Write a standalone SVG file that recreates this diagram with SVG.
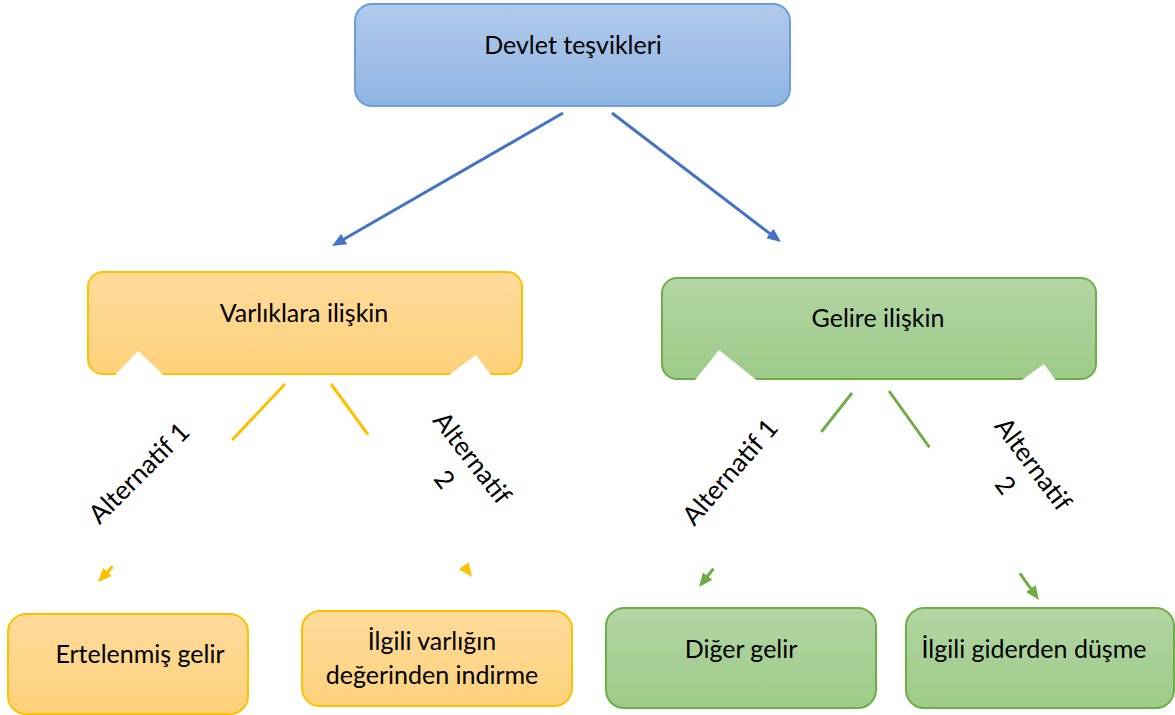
<svg xmlns="http://www.w3.org/2000/svg" width="1175" height="715" viewBox="0 0 1175 715">
  <defs>
    <linearGradient id="gBlue" x1="0" y1="0" x2="0" y2="1">
      <stop offset="0" stop-color="#b1caea"/>
      <stop offset="1" stop-color="#8fb4e3"/>
    </linearGradient>
    <linearGradient id="gYellow" x1="0" y1="0" x2="0" y2="1">
      <stop offset="0" stop-color="#fedb9b"/>
      <stop offset="1" stop-color="#fdd27c"/>
    </linearGradient>
    <linearGradient id="gGreen" x1="0" y1="0" x2="0" y2="1">
      <stop offset="0" stop-color="#b3d5a4"/>
      <stop offset="1" stop-color="#9dcb88"/>
    </linearGradient>
    <marker id="mBlue" markerUnits="userSpaceOnUse" viewBox="0 0 14 12" refX="8" refY="6" markerWidth="14" markerHeight="12" orient="auto">
      <path d="M0,0 L14,6 L0,12 z" fill="#4472c4"/>
    </marker>
    <marker id="mYellow" markerUnits="userSpaceOnUse" viewBox="0 0 14 12" refX="8" refY="6" markerWidth="14" markerHeight="12" orient="auto">
      <path d="M0,0 L14,6 L0,12 z" fill="#ffc000"/>
    </marker>
    <marker id="mGreen" markerUnits="userSpaceOnUse" viewBox="0 0 14 12" refX="8" refY="6" markerWidth="14" markerHeight="12" orient="auto">
      <path d="M0,0 L14,6 L0,12 z" fill="#70ad47"/>
    </marker>
  </defs>
  <style>
    .blue { fill: url(#gBlue); stroke: #6a9fd8; stroke-width: 2; }
    .yellow { fill: url(#gYellow); stroke: #ffc000; stroke-width: 2; }
    .green { fill: url(#gGreen); stroke: #70ad47; stroke-width: 2; }
    .t { font-family: Lato, "Noto Sans", "Liberation Sans", sans-serif; font-size: 25px; fill: #000; text-anchor: middle; }
    .lbl { font-family: Lato, "Noto Sans", "Liberation Sans", sans-serif; font-size: 26px; fill: #000; text-anchor: middle; }
    .cb { stroke: #4472c4; stroke-width: 3; fill: none; }
    .cy { stroke: #ffc000; stroke-width: 3; fill: none; }
    .cg { stroke: #70ad47; stroke-width: 3; fill: none; }
    .bg { fill: #ffffff; stroke: none; }
  </style>

  <g id="node-devlet">
    <rect class="blue" x="355" y="4" width="435" height="102" rx="17"/>
    <text class="t" x="573" y="54">Devlet teşvikleri</text>
  </g>
  <g id="node-varliklara">
    <rect class="yellow" x="88" y="272" width="434" height="102" rx="15"/>
    <text class="t" x="304" y="322">Varlıklara ilişkin</text>
  </g>
  <g id="node-gelire">
    <rect class="green" x="662" y="278" width="434" height="101" rx="15"/>
    <text class="t" x="878" y="327">Gelire ilişkin</text>
  </g>

  <g id="connectors">
    <line class="cb" x1="563" y1="113" x2="337.2" y2="243" marker-end="url(#mBlue)"/>
    <line class="cb" x1="612" y1="113" x2="776.2" y2="238.4" marker-end="url(#mBlue)"/>
    <line class="cy" x1="285" y1="384" x2="102.1" y2="577.6" marker-end="url(#mYellow)"/>
    <line class="cy" x1="331" y1="384" x2="468.5" y2="572.2" marker-end="url(#mYellow)"/>
    <line class="cg" x1="852" y1="393" x2="702.7" y2="582.3" marker-end="url(#mGreen)"/>
    <line class="cg" x1="889" y1="391" x2="1035.5" y2="595.1" marker-end="url(#mGreen)"/>
  </g>

  <g id="connector-labels">
    <polygon class="bg" points="138,351 264.5,470.5 145,597 18.5,477.5"/>
    <polygon class="bg" points="476,355 572.4,485.2 451.8,574.5 355.4,444.3"/>
    <polygon class="bg" points="719,350 851.8,456.3 743,592.2 610.2,485.9"/>
    <polygon class="bg" points="1044,364 1135.1,489.4 1012.1,578.8 921,453.4"/>
    <g transform="translate(139,473) rotate(-45)">
      <text class="lbl" x="0" y="9">Alternatif 1</text>
    </g>
    <g transform="translate(458,469) rotate(52)">
      <text class="lbl" x="0" y="-9">Alternatif</text>
      <text class="lbl" x="0" y="26">2</text>
    </g>
    <g transform="translate(730,472) rotate(-49)">
      <text class="lbl" x="0" y="9">Alternatif 1</text>
    </g>
    <g transform="translate(1019,475) rotate(53)">
      <text class="lbl" x="0" y="-9">Alternatif</text>
      <text class="lbl" x="0" y="26">2</text>
    </g>
  </g>

  <g id="node-ertelenmis">
    <rect class="yellow" x="8" y="614" width="240" height="100" rx="18"/>
    <text class="t" x="140" y="663">Ertelenmiş gelir</text>
  </g>
  <g id="node-ilgili-varlik">
    <rect class="yellow" x="302" y="611" width="270" height="95" rx="18"/>
    <text class="t" x="432" y="650">İlgili varlığın</text>
    <text class="t" x="432" y="684">değerinden indirme</text>
  </g>
  <g id="node-diger-gelir">
    <rect class="green" x="606" y="608" width="270" height="100" rx="18"/>
    <text class="t" x="741" y="658">Diğer gelir</text>
  </g>
  <g id="node-ilgili-gider">
    <rect class="green" x="906" y="608" width="268" height="100" rx="18"/>
    <text class="t" x="1034" y="658">İlgili giderden düşme</text>
  </g>
</svg>
